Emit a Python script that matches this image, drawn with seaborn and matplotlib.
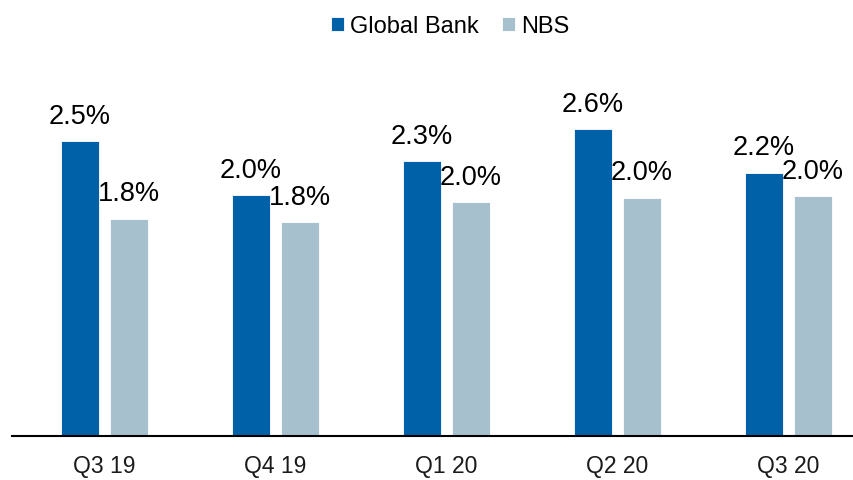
import matplotlib
matplotlib.use("Agg")
import matplotlib.pyplot as plt
import seaborn as sns
import pandas as pd

quarters = ["Q3 19", "Q4 19", "Q1 20", "Q2 20", "Q3 20"]
global_bank = [2.50, 2.04, 2.33, 2.60, 2.23]
nbs = [1.84, 1.81, 1.98, 2.02, 2.03]
series = ["Global Bank", "NBS"]
colors = ["#0061A8", "#A6C1CD"]

df = pd.DataFrame({
    "quarter": quarters * 2,
    "value": global_bank + nbs,
    "series": [series[0]] * len(quarters) + [series[1]] * len(quarters),
})

sns.set_theme(style="white")
plt.rcParams["font.family"] = ["Liberation Sans", "DejaVu Sans"]
plt.rcParams["text.color"] = "black"

fig = plt.figure(figsize=(8.54, 4.81), dpi=100)
ax = fig.add_axes([12 / 854, 44 / 481, 1 - 12 / 854, 377.6 / 481])

sns.barplot(data=df, x="quarter", y="value", hue="series", order=quarters,
            hue_order=series, palette=colors, saturation=1, width=0.573, gap=0.225,
            edgecolor="white", linewidth=0.6, ax=ax, legend=True)

for container in ax.containers:
    ax.bar_label(container, labels=[f"{v:.1f}%" for v in container.datavalues],
                 padding=9, fontsize=19.5, color="black")

ax.set_ylim(0, 3.2)
ax.set_xlim(-0.54, 4.383)
ax.set_xlabel("")
ax.set_ylabel("")
ax.set_yticks([])
for side in ["left", "right", "top"]:
    ax.spines[side].set_visible(False)
ax.spines["bottom"].set_color("black")
ax.spines["bottom"].set_linewidth(1.5)
ax.tick_params(axis="x", length=0, pad=13)
for lbl in ax.get_xticklabels():
    lbl.set_fontsize(16.5)
    lbl.set_color("#1a1a1a")

handles, labels = ax.get_legend_handles_labels()
ax.get_legend().remove()
leg = fig.legend(handles, labels, loc="center", bbox_to_anchor=(450 / 854, 1 - 27 / 481),
                 ncol=2, frameon=False, fontsize=17, handlelength=0.55, handleheight=0.55,
                 handletextpad=0.25, columnspacing=1.0, borderaxespad=0)
for t in leg.get_texts():
    t.set_color("black")

fig.savefig("out.png", dpi=100)
